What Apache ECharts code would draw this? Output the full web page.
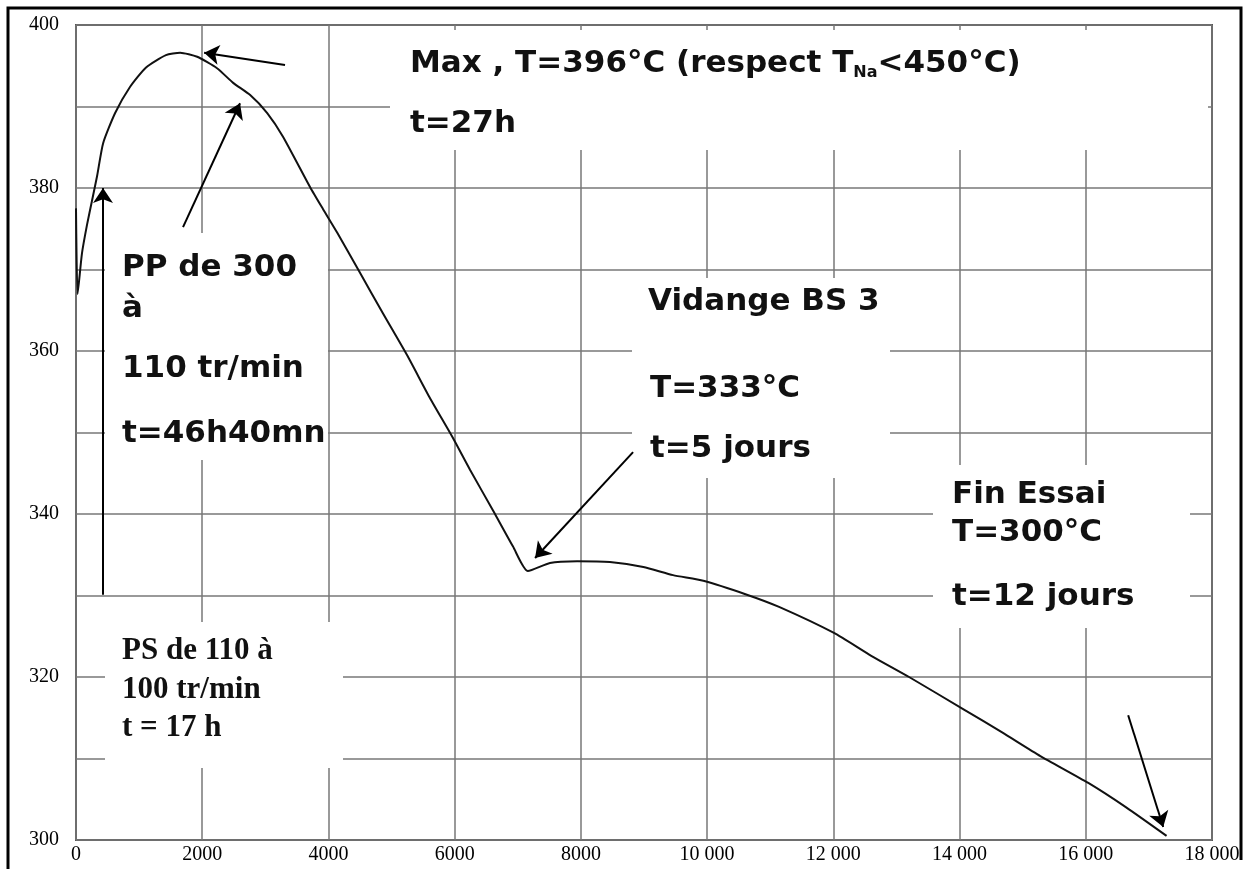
<!DOCTYPE html>
<html>
<head>
<meta charset="utf-8">
<script src="https://cdn.jsdelivr.net/npm/echarts@6/dist/echarts.min.js"></script>
<style>
  html, body { margin: 0; padding: 0; background: #fff; }
  #chart { width: 1244px; height: 869px; }
</style>
</head>
<body>
<div id="chart"></div>
<script>
// time in minutes, temperature in °C
const times = [0, 25, 95, 175, 255, 335, 430, 620, 855, 1110, 1425, 1650, 1920, 2235, 2490, 2760,
  3030, 3280, 3710, 3915, 4140, 4500, 4865, 5245, 5610, 5960, 6245, 6610, 6925, 7160,
  7510, 7940, 8460, 8990, 9460, 9940, 10630, 11140, 12010, 12600, 13200, 14070, 14675, 15280,
  16040, 16640, 17280];
const temps = [377.5, 367.0, 372.0, 375.5, 378.5, 381.5, 385.5, 389.2, 392.4, 394.8, 396.3, 396.6,
  396.1, 394.7, 392.9, 391.4, 389.2, 386.3, 380.1, 377.4, 374.5, 369.6, 364.6, 359.5, 354.2,
  349.5, 345.4, 340.4, 336.0, 333.0, 334.0, 334.2, 334.1, 333.5, 332.5, 331.8, 330.1, 328.6, 325.4,
  322.6, 320.0, 316.0, 313.2, 310.3, 307.0, 304.0, 300.5];

const xTickValues = [0, 2000, 4000, 6000, 8000, 10000, 12000, 14000, 16000, 18000];
const xTickLabels = ['0', '2000', '4000', '6000', '8000', '10 000', '12 000', '14 000', '16 000', '18 000'];
const yTickValues = [300, 320, 340, 360, 380, 400];
const yTickLabels = ['300', '320', '340', '360', '380', '400'];

// arrows: [from, to] in data coords
const arrowFrom = [[3312, 395.1], [1696, 375.2], [428, 330.1], [8827, 347.6], [16672, 315.3]];
const arrowTo = [[2030, 396.6], [2599, 390.4], [428, 380.0], [7274, 334.6], [17227, 301.6]];

const chart = echarts.init(document.getElementById('chart'));

const annFont = 'bold 31px "DejaVu Sans"';
const psFont = 'bold 31px "Liberation Serif"';

function txt(x, y, s, font) {
  return {
    type: 'text', x: x, y: y, z: 10,
    style: { text: s, font: font || annFont, fill: '#111', verticalAlign: 'middle' }
  };
}
function box(x, y, w, h) {
  return { type: 'rect', z: 1, shape: { x: x, y: y, width: w, height: h }, style: { fill: '#fff' } };
}

const option = {
  animation: false,
  backgroundColor: '#fff',
  grid: {
    left: 76, right: 32, top: 25, bottom: 29,
    show: true, borderColor: '#555', borderWidth: 2
  },
  xAxis: {
    type: 'value', min: 0, max: 18000, interval: 2000,
    axisLine: { show: false },
    axisTick: { show: false },
    axisLabel: {
      color: '#000', fontFamily: 'Liberation Serif', fontSize: 20, margin: 5,
      showMaxLabel: true, showMinLabel: true,
      formatter: v => { const i = xTickValues.indexOf(v); return i < 0 ? '' : xTickLabels[i]; }
    },
    splitLine: { show: true, lineStyle: { color: '#777', width: 1.5 } }
  },
  yAxis: {
    type: 'value', min: 300, max: 400, interval: 10,
    axisLine: { show: false },
    axisTick: { show: false },
    axisLabel: {
      color: '#000', fontFamily: 'Liberation Serif', fontSize: 20, margin: 17,
      formatter: v => { const i = yTickValues.indexOf(v); return i < 0 ? '' : yTickLabels[i]; }
    },
    splitLine: { show: true, lineStyle: { color: '#777', width: 1.5 } }
  },
  series: [{
    type: 'line',
    data: times.map((t, i) => [t, temps[i]]),
    showSymbol: false,
    smooth: 0.2,
    lineStyle: { color: '#111', width: 2 },
    markLine: {
      silent: true,
      symbol: ['none', 'arrow'],
      symbolSize: 15,
      label: { show: false },
      lineStyle: { color: '#000', width: 2, type: 'solid' },
      data: arrowFrom.map((f, i) => [{ coord: f }, { coord: arrowTo[i] }])
    }
  }],
  graphic: [
    box(390, 30, 818, 120),
    box(105, 233, 223, 227),
    box(105, 622, 238, 146),
    box(632, 278, 258, 200),
    box(933, 465, 257, 163),
    {
      type: 'text', x: 410, y: 64, z: 10,
      style: {
        text: '{a|Max , T=396°C (respect T}{s|Na}{a|<450°C)}',
        fill: '#111',
        verticalAlign: 'middle',
        rich: {
          a: { font: annFont, fill: '#111', lineHeight: 34 },
          s: { font: 'bold 16px "DejaVu Sans"', fill: '#111', lineHeight: 34, verticalAlign: 'bottom' }
        }
      }
    },
    txt(410, 124, 't=27h'),
    txt(122, 268, 'PP de 300'),
    txt(122, 309, 'à'),
    txt(122, 369, '110 tr/min'),
    txt(122, 434, 't=46h40mn'),
    txt(122, 651, 'PS de 110 à', psFont),
    txt(122, 690, '100 tr/min', psFont),
    txt(122, 728, 't = 17 h', psFont),
    txt(648, 302, 'Vidange BS 3'),
    txt(650, 389, 'T=333°C'),
    txt(650, 449, 't=5 jours'),
    txt(952, 495, 'Fin Essai'),
    txt(952, 533, 'T=300°C'),
    txt(952, 597, 't=12 jours'),
    {
      type: 'polyline', z: 20,
      shape: { points: [[8, 869], [8, 8], [1241, 8], [1241, 860]] },
      style: { stroke: '#000', lineWidth: 3, fill: null }
    }
  ]
};

chart.setOption(option);
</script>
</body>
</html>
